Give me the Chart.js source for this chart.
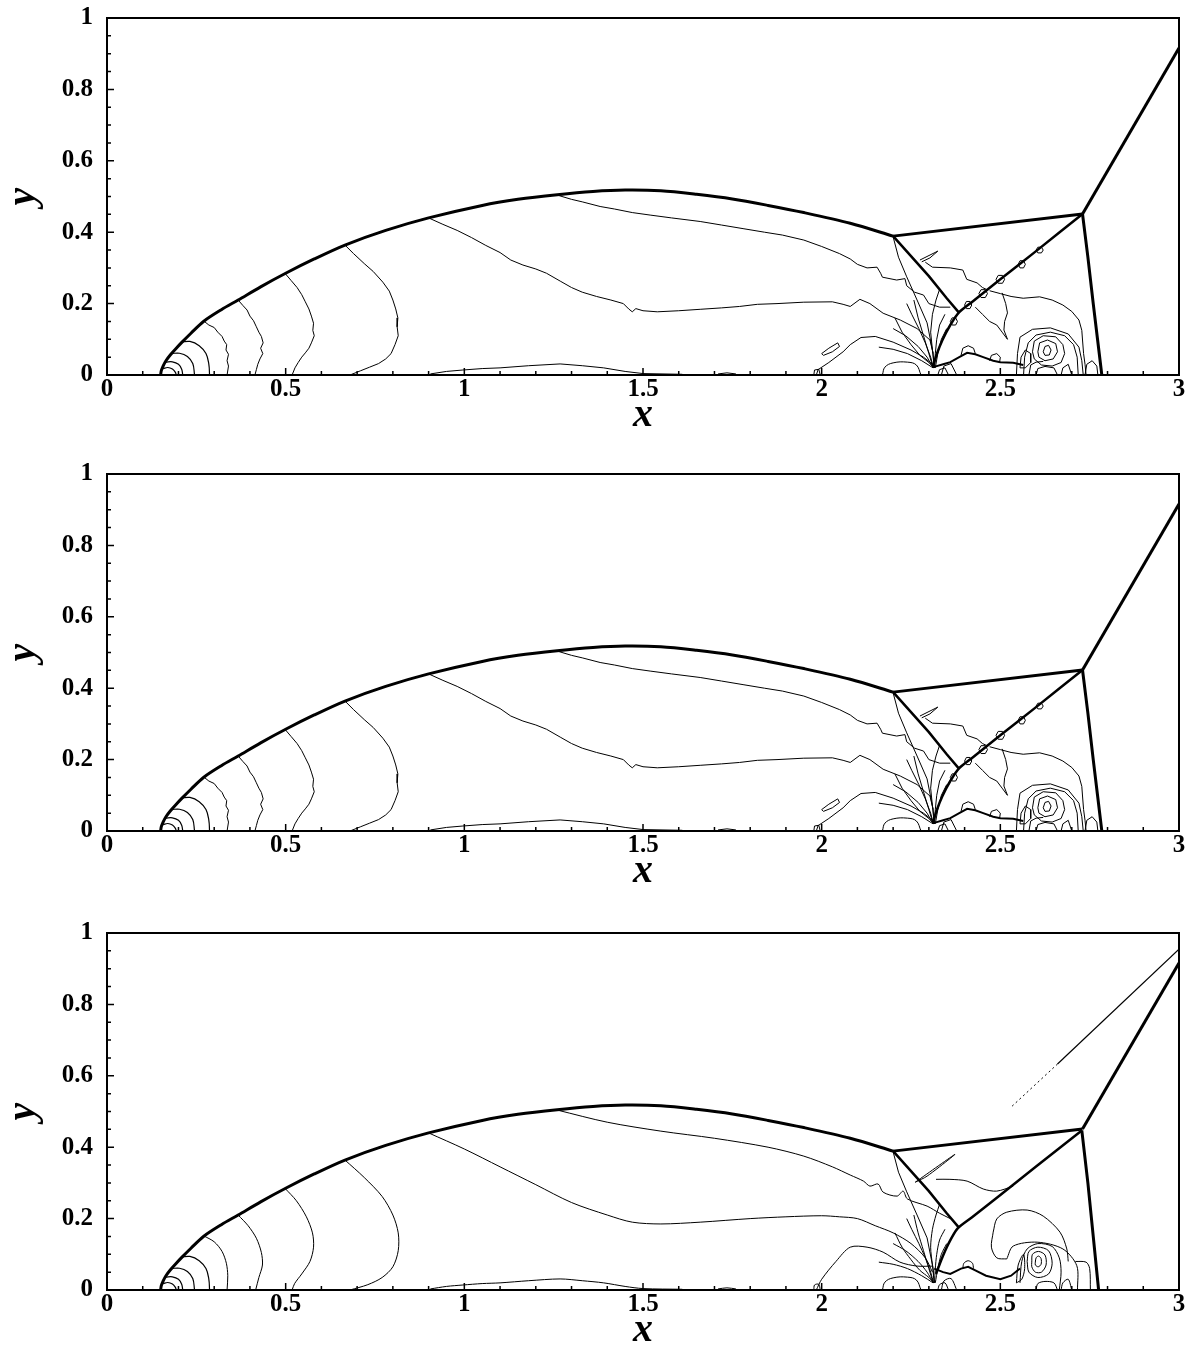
<!DOCTYPE html>
<html>
<head>
<meta charset="utf-8">
<script src="https://cdn.jsdelivr.net/npm/chart.js@4.4.0/dist/chart.umd.min.js"></script>
<style>
body { margin: 0; background: #fff; }
.panel { position: absolute; left: 0; width: 1190px; height: 440px; }
</style>
</head>
<body>
<div class="panel" style="top:0"><canvas id="c1" width="1190" height="440"></canvas></div>
<div class="panel" style="top:456px"><canvas id="c2" width="1190" height="440"></canvas></div>
<div class="panel" style="top:915px"><canvas id="c3" width="1190" height="440"></canvas></div>
<script>
// Axis ticks
const xTicks = [0, 0.5, 1, 1.5, 2, 2.5, 3];
const yTicks = [0, 0.2, 0.4, 0.6, 0.8, 1];
const xMinor = [0.1, 0.2, 0.3, 0.4, 0.6, 0.7, 0.8, 0.9, 1.1, 1.2, 1.3, 1.4, 1.6, 1.7, 1.8, 1.9, 2.1, 2.2, 2.3, 2.4, 2.6, 2.7, 2.8, 2.9];
const yMinor = [0.05, 0.1, 0.15, 0.25, 0.3, 0.35, 0.45, 0.5, 0.55, 0.65, 0.7, 0.75, 0.85, 0.9, 0.95];

// Shock structure (shared)
const bowShock = [[0.15,0],[0.152,0.012],[0.157,0.025],[0.165,0.04],[0.177,0.056],[0.192,0.073],[0.21,0.092],[0.235,0.117],[0.27,0.15],[0.32,0.183],[0.367,0.21],[0.43,0.247],[0.5,0.285],[0.58,0.325],[0.666,0.364],[0.78,0.405],[0.9,0.44],[1.05,0.475],[1.15,0.492],[1.26,0.505],[1.36,0.514],[1.45,0.518],[1.55,0.516],[1.65,0.506],[1.75,0.493],[1.85,0.475],[1.95,0.455],[2.08,0.425],[2.2,0.389]];
const incidentShock = [[2.73,0.451],[3.0,0.916]];
const upperReflected = [[2.2,0.389],[2.73,0.451]];
const lowerReflected = [[2.2,0.389],[2.25,0.333],[2.3,0.277],[2.35,0.215],[2.383,0.176]];
const machStem = [[2.73,0.451],[2.745,0.33],[2.76,0.2],[2.772,0.1],[2.784,0]];
const machStem3 = [[2.728,0.447],[2.745,0.3],[2.76,0.15],[2.775,0]];
const diagonal = [[2.73,0.451],[2.6,0.347],[2.5,0.268],[2.42,0.204],[2.385,0.176],[2.36,0.14],[2.338,0.098],[2.322,0.058],[2.312,0.025]];
const diagonal3 = [[2.728,0.447],[2.6,0.346],[2.5,0.266],[2.42,0.203],[2.38,0.172],[2.355,0.13],[2.335,0.085],[2.32,0.045]];
const tripleFoot = [[2.2,0.387],[2.215,0.33],[2.238,0.275],[2.267,0.21],[2.295,0.146],[2.312,0.06],[2.315,0.02]];

// Leading-edge arcs
const arc1 = [[0.157,0.018],[0.17,0.021],[0.183,0.017],[0.191,0.008],[0.194,0]];
const arc2 = [[0.164,0.036],[0.183,0.037],[0.2,0.03],[0.209,0.016],[0.212,0]];
const arc3 = [[0.18,0.06],[0.203,0.061],[0.225,0.052],[0.24,0.032],[0.245,0]];
const arc4 = [[0.208,0.092],[0.232,0.094],[0.258,0.082],[0.277,0.06],[0.285,0.03],[0.287,0]];

// Panels 1 and 2 contours
const cont1 = [[0.27,0.152],[0.285,0.14],[0.3,0.133],[0.31,0.12],[0.322,0.108],[0.328,0.095],[0.335,0.085],[0.333,0.07],[0.34,0.058],[0.336,0.04],[0.34,0.025],[0.336,0]];
const cont2 = [[0.367,0.21],[0.38,0.195],[0.392,0.182],[0.4,0.165],[0.41,0.152],[0.418,0.135],[0.425,0.12],[0.432,0.108],[0.437,0.09],[0.43,0.075],[0.436,0.06],[0.428,0.045],[0.422,0.03],[0.418,0.015],[0.414,0]];
const cont3 = [[0.498,0.285],[0.515,0.265],[0.532,0.245],[0.545,0.225],[0.555,0.205],[0.565,0.185],[0.572,0.165],[0.578,0.145],[0.576,0.125],[0.58,0.11],[0.572,0.09],[0.565,0.075],[0.555,0.062],[0.545,0.05],[0.535,0.035],[0.526,0.02],[0.518,0]];
const cont4 = [[0.666,0.364],[0.69,0.34],[0.72,0.312],[0.745,0.29],[0.772,0.26],[0.79,0.235],[0.8,0.21],[0.808,0.185],[0.814,0.16],[0.812,0.135],[0.815,0.11],[0.806,0.085],[0.795,0.06],[0.78,0.045],[0.76,0.032],[0.735,0.022],[0.71,0.012],[0.68,0]];
const cont5 = [[0.9,0.44],[0.94,0.422],[0.98,0.405],[1.02,0.385],[1.06,0.363],[1.1,0.343],[1.13,0.322],[1.164,0.308],[1.2,0.297],[1.23,0.285],[1.27,0.262],[1.3,0.245],[1.33,0.232],[1.37,0.22],[1.41,0.21],[1.445,0.2],[1.46,0.185],[1.47,0.177],[1.48,0.186],[1.5,0.18],[1.54,0.177],[1.6,0.18],[1.66,0.184],[1.72,0.188],[1.77,0.192],[1.82,0.198],[1.875,0.2],[1.95,0.204],[2.03,0.205],[2.06,0.198],[2.08,0.192],[2.107,0.212],[2.135,0.2],[2.172,0.173],[2.22,0.154],[2.267,0.13],[2.303,0.098],[2.312,0.06]];
const cont6 = [[1.26,0.504],[1.3,0.492],[1.33,0.485],[1.38,0.472],[1.42,0.465],[1.47,0.455],[1.52,0.448],[1.58,0.44],[1.66,0.43],[1.72,0.42],[1.78,0.41],[1.84,0.4],[1.89,0.392],[1.95,0.378],[2.0,0.36],[2.05,0.34],[2.08,0.325],[2.1,0.31],[2.127,0.3],[2.155,0.302],[2.165,0.285],[2.17,0.274],[2.21,0.266],[2.233,0.27],[2.238,0.25],[2.26,0.232],[2.285,0.224],[2.3,0.2],[2.33,0.19],[2.36,0.19]];
const cont7 = [[1.985,0],[1.99,0.015],[2.02,0.035],[2.06,0.065],[2.08,0.085],[2.11,0.105],[2.15,0.108],[2.2,0.092],[2.25,0.07],[2.285,0.05],[2.31,0.03]];
const loopA = [[2.0,0.06],[2.02,0.075],[2.045,0.09],[2.05,0.08],[2.03,0.065],[2.005,0.055],[2.0,0.06]];
const wallD = [[1.978,0],[1.98,0.014],[1.992,0.016],[1.996,0]];
const bottomBump = [[0.905,0.003],[0.95,0.01],[0.996,0.014],[1.05,0.018],[1.1,0.02],[1.18,0.026],[1.268,0.031],[1.33,0.026],[1.39,0.02],[1.45,0.01],[1.5,0.004],[1.61,0.002]];
const smallBit = [[1.71,0.003],[1.735,0.006],[1.76,0.003]];
const semi = [[2.17,0],[2.177,0.022],[2.2,0.034],[2.24,0.036],[2.265,0.028],[2.278,0]];
const fan1 = [[2.312,0.02],[2.295,0.05],[2.27,0.08],[2.235,0.11],[2.2,0.13]];
const fan2 = [[2.312,0.02],[2.3,0.06],[2.285,0.11],[2.27,0.16],[2.258,0.21]];
const fan3 = [[2.315,0.02],[2.31,0.07],[2.305,0.12],[2.31,0.17],[2.32,0.21],[2.33,0.24]];
const fan4 = [[2.318,0.02],[2.325,0.06],[2.335,0.1],[2.35,0.13]];
const fan5 = [[2.312,0.02],[2.28,0.04],[2.24,0.06],[2.2,0.072],[2.16,0.078]];
const fan6 = [[2.313,0.02],[2.305,0.05],[2.29,0.09],[2.272,0.13],[2.252,0.17],[2.238,0.2]];
const fan7 = [[2.316,0.02],[2.318,0.06],[2.322,0.1],[2.33,0.14],[2.345,0.17]];
const fan8 = [[2.314,0.02],[2.3,0.035],[2.275,0.055],[2.25,0.085],[2.225,0.12],[2.205,0.16]];
const footArc = [[2.325,0],[2.33,0.015],[2.345,0.02],[2.355,0]];
const footArc2 = [[2.335,0],[2.342,0.025],[2.362,0.032],[2.378,0]];
const contI = [[2.29,0.316],[2.31,0.302],[2.36,0.3],[2.395,0.294],[2.406,0.268],[2.435,0.258],[2.45,0.245],[2.465,0.238]];
const flag = [[2.275,0.322],[2.325,0.347],[2.303,0.328],[2.28,0.317]];
const contJ = [[2.47,0.236],[2.5,0.228],[2.53,0.22],[2.564,0.215],[2.61,0.219],[2.645,0.21],[2.675,0.196],[2.7,0.178],[2.72,0.154],[2.728,0.125],[2.73,0.098],[2.733,0.06],[2.737,0.03],[2.74,0]];
const contK = [[2.505,0.23],[2.515,0.2],[2.52,0.174],[2.512,0.15],[2.51,0.126],[2.52,0.1]];
const contL = [[2.43,0.19],[2.45,0.17],[2.47,0.15],[2.49,0.14],[2.505,0.12],[2.52,0.1]];
const bub1 = [[2.488,0.268],[2.494,0.279],[2.506,0.279],[2.512,0.268],[2.506,0.257],[2.494,0.257],[2.488,0.268]];
const bub2 = [[2.44,0.228],[2.446,0.239],[2.458,0.239],[2.464,0.228],[2.458,0.217],[2.446,0.217],[2.44,0.228]];
const bub3 = [[2.4,0.196],[2.405,0.206],[2.415,0.206],[2.42,0.196],[2.415,0.186],[2.405,0.186],[2.4,0.196]];
const bub4 = [[2.55,0.31],[2.555,0.32],[2.565,0.32],[2.57,0.31],[2.565,0.3],[2.555,0.3],[2.55,0.31]];
const bub5 = [[2.36,0.15],[2.365,0.16],[2.375,0.16],[2.38,0.15],[2.375,0.14],[2.365,0.14],[2.36,0.15]];
const bub6 = [[2.6,0.35],[2.605,0.358],[2.615,0.358],[2.62,0.35],[2.615,0.342],[2.605,0.342],[2.6,0.35]];
const wallJet = [[2.312,0.022],[2.34,0.03],[2.36,0.036],[2.385,0.05],[2.407,0.062],[2.43,0.058],[2.452,0.05],[2.48,0.04],[2.5,0.036],[2.536,0.034],[2.564,0.028]];
const jetBubble = [[2.39,0.055],[2.395,0.075],[2.41,0.082],[2.425,0.075],[2.43,0.06]];
const jetBubble2 = [[2.47,0.04],[2.475,0.055],[2.49,0.06],[2.5,0.05],[2.498,0.036]];
const vort1 = [[2.62,0.065],[2.625,0.08],[2.635,0.083],[2.642,0.07],[2.637,0.056],[2.625,0.055],[2.62,0.065]];
const vort2 = [[2.605,0.065],[2.61,0.09],[2.632,0.098],[2.655,0.088],[2.66,0.065],[2.648,0.045],[2.625,0.04],[2.608,0.05],[2.605,0.065]];
const vort3 = [[2.59,0.065],[2.595,0.095],[2.62,0.11],[2.655,0.107],[2.675,0.085],[2.68,0.06],[2.67,0.035],[2.645,0.025],[2.615,0.028],[2.595,0.045],[2.59,0.065]];
const vort4 = [[2.565,0],[2.568,0.05],[2.578,0.09],[2.6,0.112],[2.64,0.12],[2.68,0.11],[2.705,0.085],[2.715,0.05],[2.718,0]];
const vort5 = [[2.545,0],[2.548,0.06],[2.555,0.106],[2.59,0.128],[2.64,0.132],[2.69,0.115],[2.72,0.078],[2.728,0.04],[2.732,0]];
const vort6 = [[2.555,0.02],[2.558,0.05],[2.57,0.07],[2.585,0.06],[2.585,0.035],[2.57,0.02],[2.555,0.02]];
const vortBase1 = [[2.6,0],[2.605,0.018],[2.625,0.024],[2.65,0.02],[2.66,0]];
const vortBase2 = [[2.67,0],[2.675,0.02],[2.69,0.03],[2.7,0]];
const vortBase3 = [[2.58,0],[2.585,0.028],[2.6,0.036],[2.62,0.038]];
const stemBump = [[2.737,0],[2.742,0.03],[2.757,0.04],[2.77,0.025],[2.773,0]];

// Panel 3 contours
const cont1b = [[0.27,0.152],[0.3,0.135],[0.322,0.108],[0.334,0.075],[0.338,0.04],[0.336,0]];
const cont2b = [[0.367,0.21],[0.395,0.18],[0.418,0.145],[0.432,0.105],[0.435,0.07],[0.425,0.035],[0.416,0]];
const cont3b = [[0.498,0.285],[0.53,0.25],[0.558,0.205],[0.575,0.16],[0.578,0.12],[0.568,0.08],[0.545,0.045],[0.525,0.018],[0.518,0]];
const cont4b = [[0.666,0.364],[0.72,0.315],[0.77,0.262],[0.8,0.21],[0.815,0.16],[0.815,0.11],[0.8,0.065],[0.77,0.035],[0.73,0.015],[0.68,0]];
const cont5b = [[0.9,0.44],[1.0,0.395],[1.1,0.345],[1.2,0.295],[1.3,0.245],[1.4,0.21],[1.47,0.19],[1.55,0.185],[1.66,0.19],[1.8,0.2],[1.9,0.205],[2.0,0.208],[2.05,0.205],[2.1,0.2],[2.15,0.18],[2.2,0.16],[2.25,0.13],[2.29,0.09],[2.31,0.05]];
const cont6b = [[1.26,0.504],[1.4,0.47],[1.55,0.445],[1.7,0.425],[1.85,0.4],[1.95,0.375],[2.03,0.345],[2.08,0.322],[2.117,0.305],[2.135,0.291],[2.158,0.297],[2.172,0.274],[2.211,0.263],[2.228,0.277],[2.24,0.255],[2.295,0.235],[2.33,0.215],[2.36,0.2]];
const cont7b = [[1.985,0],[2.0,0.03],[2.04,0.08],[2.08,0.12],[2.127,0.12],[2.172,0.106],[2.219,0.078],[2.267,0.067],[2.312,0.067]];
const contIb = [[2.32,0.31],[2.359,0.31],[2.407,0.305],[2.452,0.283],[2.49,0.277],[2.536,0.291]];
const spike = [[2.262,0.302],[2.373,0.38],[2.295,0.319],[2.262,0.302]];
const streakDots = [[2.533,0.515],[2.66,0.633]];
const streakLine = [[2.66,0.633],[3.0,0.955]];
const wallJetB = [[2.315,0.06],[2.34,0.05],[2.36,0.045],[2.39,0.06],[2.41,0.065],[2.43,0.055],[2.46,0.04],[2.5,0.03],[2.53,0.04],[2.555,0.06]];
const jetBubbleB = [[2.395,0.06],[2.398,0.075],[2.41,0.082],[2.422,0.075],[2.425,0.06]];
const vort1b = [[2.598,0.078],[2.6,0.09],[2.607,0.095],[2.614,0.088],[2.614,0.072],[2.606,0.065],[2.598,0.07],[2.598,0.078]];
const vort2b = [[2.588,0.078],[2.59,0.1],[2.607,0.108],[2.625,0.098],[2.628,0.07],[2.615,0.05],[2.598,0.05],[2.588,0.065],[2.588,0.078]];
const vort3b = [[2.575,0.08],[2.58,0.108],[2.605,0.12],[2.635,0.11],[2.645,0.075],[2.635,0.045],[2.605,0.035],[2.58,0.05],[2.575,0.08]];
const vort4b = [[2.555,0.02],[2.56,0.08],[2.575,0.115],[2.605,0.13],[2.645,0.122],[2.665,0.09],[2.67,0.05],[2.665,0]];
const vort5b = [[2.518,0.087],[2.536,0.123],[2.603,0.134],[2.675,0.115],[2.714,0.068],[2.716,0]];
const vort6b = [[2.545,0.02],[2.55,0.07],[2.565,0.1],[2.568,0.06],[2.56,0.03],[2.545,0.02]];
const archB = [[2.48,0.162],[2.49,0.199],[2.518,0.218],[2.575,0.224],[2.62,0.207],[2.667,0.162],[2.686,0.115],[2.69,0.08]];
const archFoot = [[2.48,0.162],[2.475,0.12],[2.49,0.09],[2.518,0.087]];
const bumpB = [[2.71,0.08],[2.74,0.078],[2.75,0.06],[2.752,0]];

function line(arr, w, extra) {
    return Object.assign({
        data: arr.map(p => ({ x: p[0], y: p[1] })),
        showLine: true,
        borderColor: '#000',
        borderWidth: w,
        pointRadius: 0,
        fill: false,
        tension: 0
    }, extra || {});
}

function shockSets(stem, diag) {
    return [
        line(bowShock, 3, { tension: 0.3 }),
        line(incidentShock, 3),
        line(upperReflected, 3),
        line(lowerReflected, 2.5),
        line(stem, 3),
        line(diag, 2.5, { tension: 0.2 }),
        line(tripleFoot, 1),
        line(arc1, 1.2, { tension: 0.4 }),
        line(arc2, 1.2, { tension: 0.4 }),
        line(arc3, 1.2, { tension: 0.4 }),
        line(arc4, 1.2, { tension: 0.4 }),
        line(semi, 1, { tension: 0.4 })
    ];
}

const panelA = shockSets(machStem, diagonal).concat([
    cont1, cont2, cont3, cont4, cont5, cont6, cont7, loopA, wallD, bottomBump, smallBit,
    fan1, fan2, fan3, fan4, fan5, fan6, fan7, fan8, footArc, footArc2, contI, flag, contJ, contK, contL,
    bub1, bub2, bub3, bub4, bub5, bub6, jetBubble, jetBubble2,
    vort1, vort2, vort3, vort4, vort5, vort6, vortBase1, vortBase2, vortBase3, stemBump
].map(a => line(a, 1))).concat([line(wallJet, 2)]);

const panelB = shockSets(machStem3, diagonal3).concat([
    cont1b, cont2b, cont3b, cont4b, cont5b, cont6b, cont7b, wallD, bottomBump, smallBit,
    fan1, fan2, fan3, fan4, fan5, fan6, fan7, fan8, footArc, footArc2, contIb, spike, jetBubbleB,
    vort1b, vort2b, vort3b, vort4b, vort5b, vort6b, archB, archFoot, bumpB, vortBase1, vortBase2
].map(a => line(a, 1, { tension: 0.3 }))).concat([
    line(wallJetB, 2),
    line(streakDots, 1, { borderDash: [2, 3] }),
    line(streakLine, 1.2)
]);

// Inside tick marks and frame
const frameTicks = {
    id: 'frameTicks',
    afterDatasetsDraw(chart) {
        const { ctx, chartArea: a, scales: { x, y } } = chart;
        ctx.save();
        ctx.strokeStyle = '#000';
        ctx.lineWidth = 1.5;
        ctx.beginPath();
        xTicks.forEach(v => { const p = x.getPixelForValue(v); ctx.moveTo(p, a.bottom); ctx.lineTo(p, a.bottom - 7); });
        xMinor.forEach(v => { const p = x.getPixelForValue(v); ctx.moveTo(p, a.bottom); ctx.lineTo(p, a.bottom - 4); });
        yTicks.forEach(v => { const p = y.getPixelForValue(v); ctx.moveTo(a.left, p); ctx.lineTo(a.left + 7, p); });
        yMinor.forEach(v => { const p = y.getPixelForValue(v); ctx.moveTo(a.left, p); ctx.lineTo(a.left + 4, p); });
        ctx.stroke();
        ctx.lineWidth = 2;
        ctx.strokeRect(a.left, a.top, a.width, a.height);
        ctx.restore();
    }
};

const tickFont = { family: 'Liberation Serif', size: 25, weight: 'bold' };
const titleFont = { family: 'Liberation Serif', size: 40, weight: 'bold', style: 'italic', lineHeight: 1.2 };

function makePanel(id, sets) {
    new Chart(document.getElementById(id), {
        type: 'scatter',
        data: { datasets: sets },
        options: {
            responsive: false,
            animation: false,
            events: [],
            layout: { padding: { top: 18, right: 11, left: 0, bottom: 0 } },
            plugins: { legend: { display: false }, tooltip: { enabled: false } },
            scales: {
                x: {
                    type: 'linear', min: 0, max: 3,
                    afterBuildTicks: s => { s.ticks = xTicks.map(v => ({ value: v })); },
                    afterFit: s => { s.height = 65; s.paddingLeft = 0; s.paddingRight = 0; },
                    ticks: { font: tickFont, color: '#000', padding: 0, maxRotation: 0, callback: v => String(Number(v.toFixed(2))) },
                    grid: { display: false, drawTicks: false },
                    border: { display: false },
                    title: { display: true, text: 'x', font: titleFont, color: '#000', padding: 0 }
                },
                y: {
                    type: 'linear', min: 0, max: 1,
                    afterBuildTicks: s => { s.ticks = yTicks.map(v => ({ value: v })); },
                    afterFit: s => { s.width = 107; s.paddingTop = 0; s.paddingBottom = 0; },
                    ticks: { font: tickFont, color: '#000', padding: 14, callback: v => String(Number(v.toFixed(2))) },
                    grid: { display: false, drawTicks: false },
                    border: { display: false },
                    title: { display: true, text: 'y', font: titleFont, color: '#000', padding: 0 }
                }
            }
        },
        plugins: [frameTicks]
    });
}

makePanel('c1', panelA);
makePanel('c2', panelA);
makePanel('c3', panelB);
</script>
</body>
</html>
